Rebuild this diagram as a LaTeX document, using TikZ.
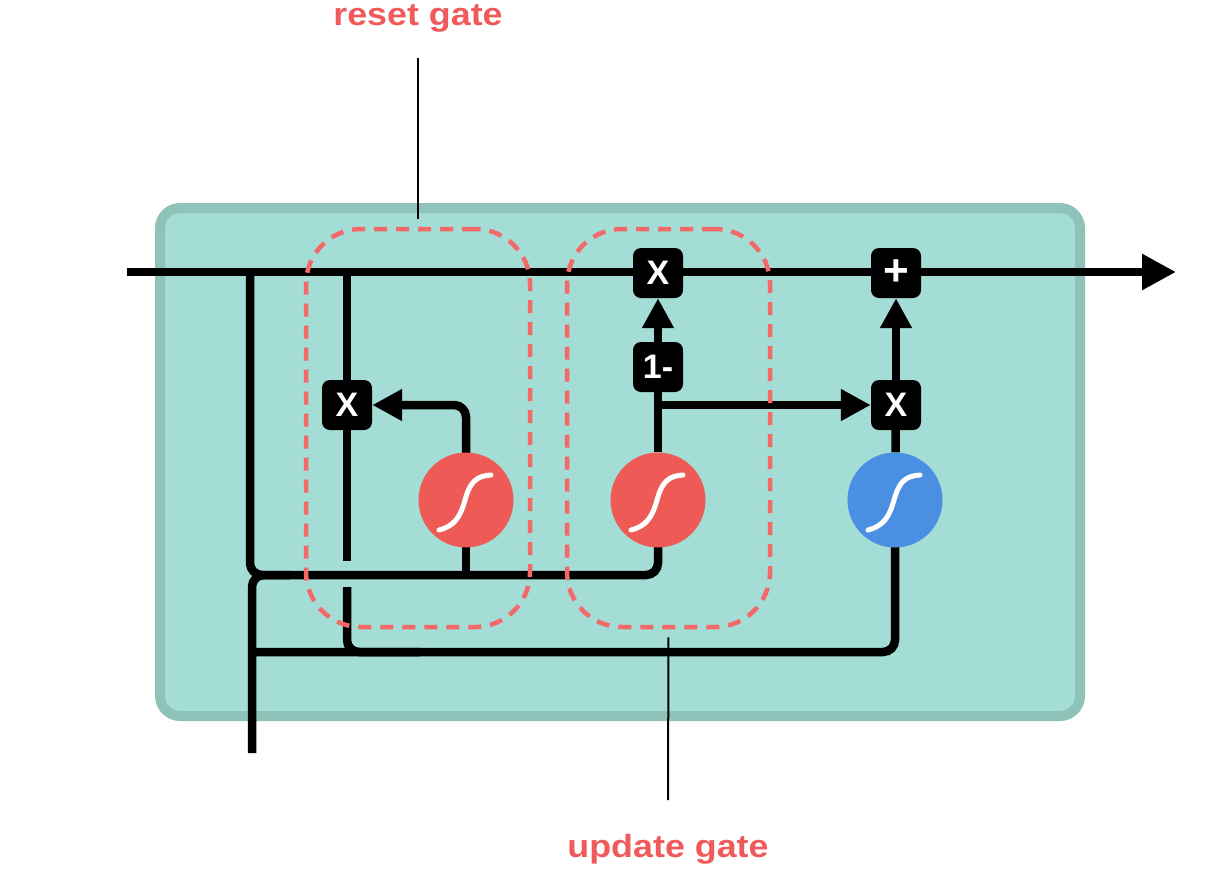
\documentclass[tikz,border=0pt]{standalone}
\usepackage{fontspec}
\setmainfont{Liberation Sans}
\newfontfamily\lblfont[FakeStretch=1.12]{Liberation Sans}
\usetikzlibrary{arrows.meta}
\definecolor{teal1}{HTML}{A3DDD5}
\definecolor{teal2}{HTML}{8FC3BA}
\definecolor{gred}{HTML}{EE5A55}
\definecolor{gblue}{HTML}{4A8FE2}
\definecolor{lred}{HTML}{F05A5A}
\definecolor{dred}{HTML}{F46868}
\pgfdeclarelayer{bg}
\pgfdeclarelayer{wires}
\pgfdeclarelayer{top}
\pgfsetlayers{bg,wires,main,top}
\begin{document}
\begin{tikzpicture}[x=1pt,y=-1pt,
 wire/.style={line width=8.5pt},
 arr/.style={wire,-{Triangle[length=30pt,width=30pt]}},
 op/.style={fill=black,rounded corners=8pt,minimum width=50pt,minimum height=50pt,inner sep=0pt,text=white,font=\bfseries\fontsize{34}{34}\selectfont},
 sig/.style={circle,minimum size=95pt,inner sep=0pt},
 sigcurve/.style={draw=white,line width=5pt,line cap=round},
 gatebox/.style={draw=dred,line width=4.5pt,dash pattern=on 13pt off 9pt,rounded corners=55pt,inner sep=0pt},
 pointer/.style={line width=2pt},
 lbl/.style={text=lred,font=\lblfont\bfseries\fontsize{32}{32}\selectfont,anchor=base,inner sep=0pt}
]
\useasboundingbox (0,0) rectangle (1206,884);
\begin{pgfonlayer}{bg}
\fill[white] (0,0) rectangle (1206,884);
\draw[draw=teal2,fill=teal1,line width=10pt,rounded corners=20pt] (160,208) rectangle (1080,716);
\end{pgfonlayer}

% operation nodes
\node[op] (ux) at (658,273) {X};
\node[op] (om) at (658,367) {1-};
\node[op,font=\bfseries\fontsize{44}{44}\selectfont] (px) at (896,273) {+};
\node[op] (rx) at (347,405) {X};
\node[op] (zx) at (896,405) {X};
% sigmoid layers
\node[sig,fill=gred] (s1) at (466,500) {};
\node[sig,fill=gred] (s2) at (658,500) {};
\node[sig,fill=gblue] (s3) at (895,500) {};
\foreach \n in {s1,s2,s3}{
  \draw[sigcurve] ([shift={(-27,30)}]\n.center)
    .. controls ([shift={(-12,26)}]\n.center) and ([shift={(-6,18)}]\n.center) .. ([shift={(-1,0)}]\n.center)
    .. controls ([shift={(4,-18)}]\n.center) and ([shift={(10,-24)}]\n.center) .. ([shift={(25,-25)}]\n.center);
}

% free ends and junctions
\coordinate (in) at (127,272);
\coordinate (out) at (1176,272);
\coordinate (j1) at (250,272);
\coordinate (j2) at (347,272);
\coordinate (c2) at (658,575);
\coordinate (jb) at (290,575);
\coordinate (xin) at (252,753);
\coordinate (jc) at (252,652);
\coordinate (g1) at (347,561);
\coordinate (g2) at (347,587);
\coordinate (g3) at (420,652);
\coordinate (br) at (658,405);

\begin{pgfonlayer}{wires}
\draw[wire,-{Triangle[length=34pt,width=34pt]}] (in) -- (out);
\draw[wire,rounded corners=12pt] (j1) |- (c2) -- (s2.center);
\draw[wire] (s1.center) -- (s1.center |- c2);
\draw[wire,rounded corners=12pt] (jb) -| (xin);
\draw[wire,rounded corners=12pt] (jc) -| (s3.center);
\draw[wire] (j2) -- (rx);
\draw[wire] (rx) -- (g1);
\draw[wire,rounded corners=12pt] (g2) |- (g3);
\draw[arr,rounded corners=12pt] (s1.center) |- (rx.east);
\draw[wire] (s2) -- (om);
\draw[arr] (om) -- (ux);
\draw[arr] (br) -- (zx.west);
\draw[wire] (s3) -- (zx);
\draw[arr] (zx) -- (px);
\end{pgfonlayer}

\begin{pgfonlayer}{top}
\node[gatebox,minimum width=224pt,minimum height=398pt] (rg) at (418,428) {};
\node[gatebox,minimum width=203pt,minimum height=398pt] (ug) at (668.5,428) {};
\end{pgfonlayer}

% labels
\node[lbl] (rl) at (418,25) {reset gate};
\node[lbl] (ul) at (668,857) {update gate};
\coordinate (rp) at (418,58);
\coordinate (upp) at (668,800);
\draw[pointer,shorten >=8pt] (rp) -- (rg.north);
\draw[pointer,shorten <=8pt] (ug.south) -- (upp);
\end{tikzpicture}
\end{document}
